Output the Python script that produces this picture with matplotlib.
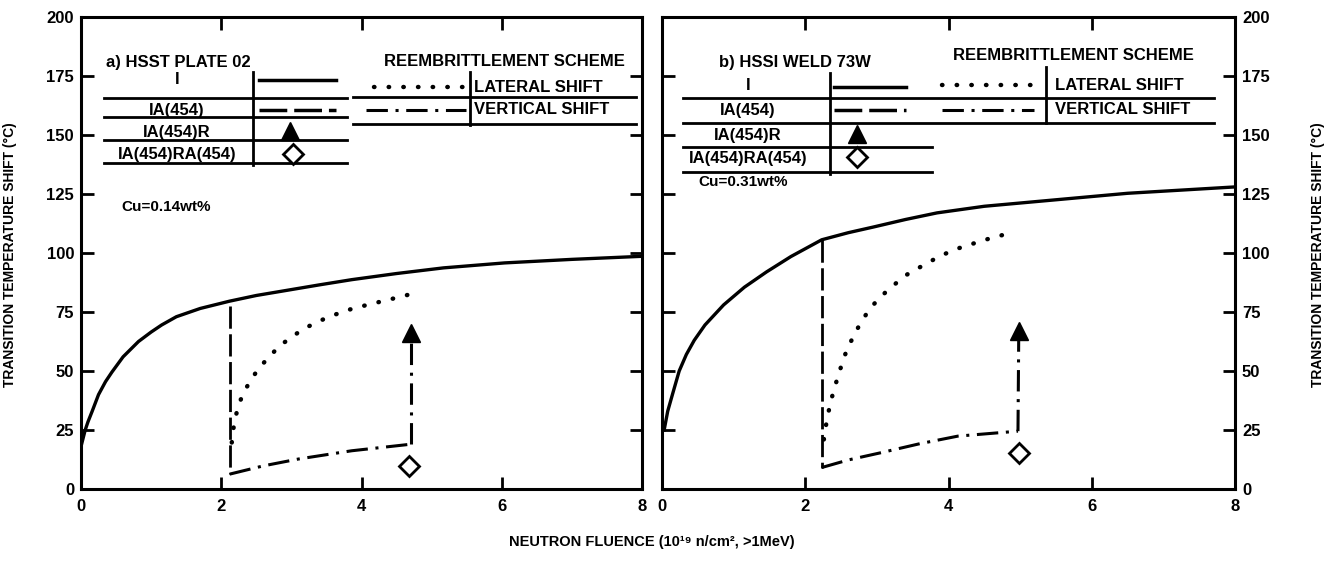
from matplotlib import pyplot as plt
from matplotlib import rcParams
from matplotlib.lines import Line2D

rcParams["font.family"] = ["Liberation Sans", "DejaVu Sans"]
rcParams["font.weight"] = "bold"

W, H = 1326, 562

# ---- panel a) HSST PLATE 02 ----
a_solid_x = [0, 0.03, 0.06, 0.1, 0.16, 0.25, 0.35, 0.44, 0.6, 0.82, 1.0, 1.15, 1.36, 1.7,
             2.12, 2.5, 3.0, 3.4, 3.86, 4.5, 5.17, 6.04, 7.0, 8.0]
a_solid_y = [18, 21.5, 25, 28.5, 33, 40, 45.5, 49.5, 56, 62.5, 66.5, 69.5, 73, 76.5,
             79.6, 82, 84.5, 86.5, 88.7, 91.3, 93.7, 95.8, 97.3, 98.6]
a_lat_x = [2.15, 2.17, 2.2, 2.25, 2.34, 2.45, 2.56, 2.7, 2.83, 3.0, 3.16, 3.35, 3.54, 3.8, 4.08, 4.4, 4.68]
a_lat_y = [19.7, 25, 30, 36, 42, 47.5, 52, 56.5, 60.6, 64.3, 67.6, 70.5, 73, 75.8, 78, 80.3, 82.4]
a_drop_x = [2.12, 2.12]
a_drop_y = [77.5, 6.3]
a_vert_x = [2.12, 2.6, 3.1, 3.86, 4.71]
a_vert_y = [6.3, 9.8, 12.7, 16.2, 19.0]
a_tri = (4.71, 66)
a_dia = (4.68, 9.9)
a_cu = "Cu=0.14wt%"

# ---- panel b) HSSI WELD 73W ----
b_solid_x = [0.03, 0.08, 0.15, 0.24, 0.34, 0.45, 0.6, 0.86, 1.15, 1.46, 1.8, 2.23, 2.6,
             2.95, 3.4, 3.84, 4.5, 5.3, 6.5, 8.0]
b_solid_y = [25, 33, 40.5, 50, 57, 63, 69.5, 78, 85.5, 92, 98.5, 105.6, 108.6,
             111, 114.2, 117, 119.8, 122, 125.3, 128]
b_lat_x = [2.26, 2.29, 2.32, 2.36, 2.41, 2.48, 2.58, 2.72, 2.88, 3.02, 3.18, 3.4, 3.66, 3.9, 4.14, 4.5, 4.85]
b_lat_y = [21, 27, 32, 37.5, 43, 50, 59, 67.5, 75.5, 80.5, 85, 90.5, 95, 99, 102, 105.5, 108.4]
b_drop_x = [2.23, 2.23]
b_drop_y = [105.6, 9.1]
b_vert_x = [2.23, 2.6, 3.06, 3.6, 4.13, 4.97]
b_vert_y = [9.1, 12.3, 15.4, 19.2, 22.4, 24.5]
b_tri = (4.98, 67)
b_dia = (4.98, 15.4)
b_cu = "Cu=0.31wt%"

x_ticks = [0, 2, 4, 6, 8]
y_ticks = [0, 25, 50, 75, 100, 125, 150, 175, 200]
row_labels = ["I", "IA(454)", "IA(454)R", "IA(454)RA(454)"]
scheme_labels = ["LATERAL SHIFT", "VERTICAL SHIFT"]

LS_DOT = (0, (0.1, 3.2))
LS_DASH = (0, (8, 2))
LS_DASHDOT = (0, (7, 2.5, 1, 2.5))

fig = plt.figure(figsize=(13.26, 5.62), dpi=100)
axa = fig.add_axes([81 / W, 1 - 489 / H, 561 / W, 472 / H])
axb = fig.add_axes([662 / W, 1 - 489 / H, 573 / W, 472 / H])


def draw_panel(ax, sx, sy, lx, ly, dx, dy, vx, vy, tri, dia):
    ax.plot(sx, sy, color='k', lw=2.4, solid_joinstyle='round')
    ax.plot(lx, ly, color='k', lw=3.2, linestyle=LS_DOT, dash_capstyle='round')
    ax.plot(dx, dy, color='k', lw=2, linestyle=LS_DASH)
    ax.plot(vx, vy, color='k', lw=2.2, linestyle=LS_DASHDOT)
    ax.plot([vx[-1], tri[0]], [vy[-1], tri[1] - 4], color='k', lw=2.2, linestyle=LS_DASHDOT)
    ax.plot(tri[0], tri[1], marker='^', ms=13, color='k', linestyle='')
    ax.plot(dia[0], dia[1], marker='D', ms=10, mfc='w', mec='k', mew=2, linestyle='')
    ax.set_xlim(0, 8)
    ax.set_ylim(0, 200)
    ax.set_xticks(x_ticks)
    ax.set_yticks(y_ticks)
    for s in ax.spines.values():
        s.set_linewidth(2.2)
    ax.tick_params(axis='both', direction='in', length=9, width=2, labelsize=12,
                   top=True, right=True, pad=7)


draw_panel(axa, a_solid_x, a_solid_y, a_lat_x, a_lat_y, a_drop_x, a_drop_y,
           a_vert_x, a_vert_y, a_tri, a_dia)
draw_panel(axb, b_solid_x, b_solid_y, b_lat_x, b_lat_y, b_drop_x, b_drop_y,
           b_vert_x, b_vert_y, b_tri, b_dia)
axa.tick_params(axis='y', labelleft=True, labelright=False, pad=5)
axb.tick_params(axis='y', labelleft=False, labelright=True, pad=5)


def fx(x):
    return x / W


def fy(y):
    return 1 - y / H


def seg(x0, x1, y0, y1, **kw):
    kw.setdefault('color', 'k')
    kw.setdefault('lw', 2)
    fig.add_artist(Line2D([fx(x0), fx(x1)], [fy(y0), fy(y1)], transform=fig.transFigure, **kw))


def txt(x, y, s, ha='center', size=12):
    fig.text(fx(x), fy(y), s, ha=ha, va='center', fontsize=size, fontweight='bold')


def mark(x, y, **kw):
    fig.add_artist(Line2D([fx(x)], [fy(y)], transform=fig.transFigure, linestyle='', **kw))


# table of panel a
txt(106, 62, "a) HSST PLATE 02", ha='left')
txt(504, 62, "REEMBRITTLEMENT SCHEME")
rows_y = [80, 110, 132, 155]
for lab, yy in zip(row_labels, rows_y):
    txt(177, yy, lab)
for yy in [98, 117, 140, 163]:
    seg(104, 347, yy, yy)
seg(253, 253, 72, 165)
seg(259, 336, 80, 80, lw=2.5)
seg(259, 336, 110, 110, lw=2.5, linestyle=LS_DASH)
mark(290, 131, marker='^', ms=13, color='k')
mark(293, 154, marker='D', ms=10, mfc='w', mec='k', mew=2)
seg(374, 466, 87, 87, lw=3.2, linestyle=LS_DOT, dash_capstyle='round')
seg(366, 466, 110, 110, lw=2.2, linestyle=LS_DASHDOT)
seg(470, 470, 72, 125)
txt(474, 87, scheme_labels[0], ha='left')
txt(474, 110, scheme_labels[1], ha='left')
seg(353, 636, 97, 97)
seg(353, 636, 124, 124)
txt(121, 207, a_cu, ha='left', size=11)

# table of panel b
txt(719, 62, "b) HSSI WELD 73W", ha='left')
txt(1073, 55, "REEMBRITTLEMENT SCHEME")
rows_y = [85, 110, 135, 158]
for lab, yy in zip(row_labels, rows_y):
    txt(748, yy, lab)
seg(683, 1214, 98, 98)
seg(683, 1214, 123, 123)
seg(683, 932, 147, 147)
seg(683, 932, 172, 172)
seg(830, 830, 73, 174)
seg(834, 906, 87, 87, lw=2.5)
seg(834, 906, 110, 110, lw=2.5, linestyle=LS_DASH)
mark(857, 134, marker='^', ms=13, color='k')
mark(857, 157, marker='D', ms=10, mfc='w', mec='k', mew=2)
seg(942, 1034, 85, 85, lw=3.2, linestyle=LS_DOT, dash_capstyle='round')
seg(942, 1034, 110, 110, lw=2.2, linestyle=LS_DASHDOT)
seg(1046, 1046, 67, 123)
txt(1055, 85, scheme_labels[0], ha='left')
txt(1055, 110, scheme_labels[1], ha='left')
txt(698, 182, b_cu, ha='left', size=11)

# axis titles
fig.text(fx(652), fy(542), "NEUTRON FLUENCE (10\u00b9\u2079 n/cm\u00b2, >1MeV)",
         ha='center', va='center', fontsize=10.5, fontweight='bold')
ylab = "TRANSITION TEMPERATURE SHIFT (\u00b0C)"
fig.text(fx(10), fy(255), ylab, rotation=90, ha='center', va='center', fontsize=10, fontweight='bold')
fig.text(fx(1318), fy(255), ylab, rotation=90, ha='center', va='center', fontsize=10, fontweight='bold')

plt.savefig('out.png', dpi=100)
